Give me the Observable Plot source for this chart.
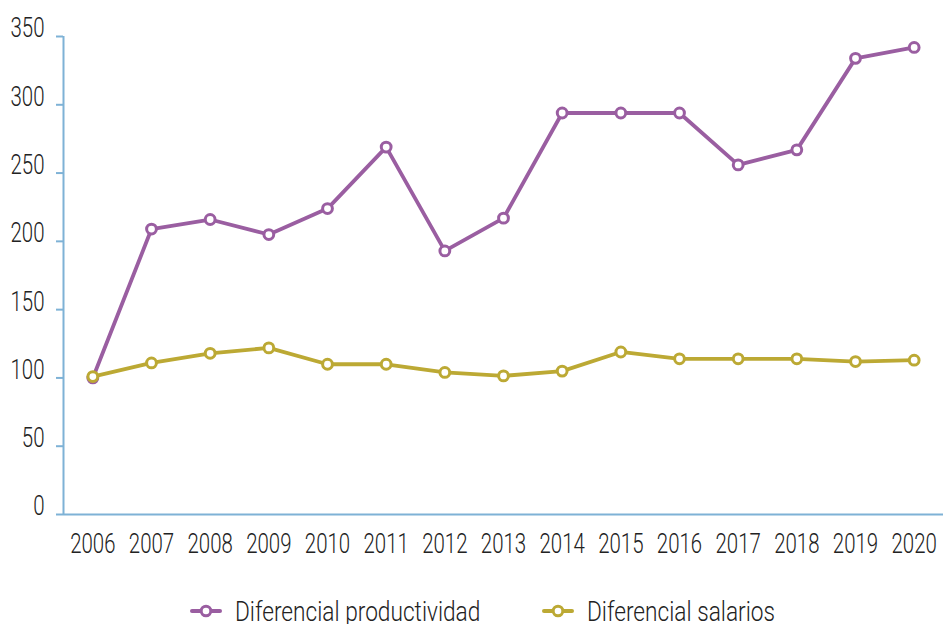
<!DOCTYPE html>
<html>
<head>
<meta charset="utf-8">
<script src="https://cdn.jsdelivr.net/npm/d3@7"></script>
<script src="https://cdn.jsdelivr.net/npm/@observablehq/plot@0.6"></script>
<style>
  html, body { margin: 0; padding: 0; background: #fff; }
  body { width: 944px; height: 624px; overflow: hidden; font-family: Roboto, "DejaVu Sans", sans-serif; }
  #chart svg, #legend svg { display: block; }
</style>
</head>
<body>
<div id="chart"></div>
<div id="legend"></div>
<script>
const years = [2006, 2007, 2008, 2009, 2010, 2011, 2012, 2013, 2014, 2015, 2016, 2017, 2018, 2019, 2020];
const productividad = [100, 209, 216, 205, 224, 269, 193, 217, 294, 294, 294, 256, 267, 334, 342];
const salarios = [101, 111, 118, 122, 110, 110, 104, 101.5, 105, 119, 114, 114, 114, 112, 113];
const seriesNames = ["Diferencial productividad", "Diferencial salarios"];
const yTicks = [0, 50, 100, 150, 200, 250, 300, 350];

const colors = ["#9a5ea1", "#bca934"];
const axisColor = "#7eb2d6";
const textColor = "#222";
const font = 'Roboto, "DejaVu Sans", sans-serif';
const squeeze = 0.73;
const legendSqueeze = 0.81;

const rows = [];
years.forEach((yr, i) => {
  rows.push({year: yr, value: productividad[i], series: seriesNames[0]});
  rows.push({year: yr, value: salarios[i], series: seriesNames[1]});
});

const chart = Plot.plot({
  width: 944,
  height: 585,
  marginLeft: 63,
  marginRight: 1,
  marginTop: 36,
  marginBottom: 71,
  style: {fontFamily: font, fontSize: "28px", fontWeight: 300, color: textColor, background: "#fff"},
  x: {type: "linear", domain: [years[0] - 0.5, years[years.length - 1] + 0.5]},
  y: {domain: [0, 350]},
  color: {domain: seriesNames, range: colors},
  marks: [
    Plot.ruleY([0], {stroke: axisColor, strokeWidth: 2}),
    Plot.ruleX([years[0] - 0.5], {y1: 0, y2: 350, stroke: axisColor, strokeWidth: 2}),
    Plot.axisY({ticks: yTicks, tickSize: 7, stroke: axisColor, strokeWidth: 2, label: null, text: null}),
    Plot.axisY({ticks: yTicks, tickSize: 7, tickPadding: 12, dy: -8, label: null, fill: textColor, marker: null, stroke: null}),
    Plot.axisX({ticks: years, tickSize: 0, tickPadding: 19, tickFormat: d => String(d), label: null, fill: textColor}),
    Plot.line(rows, {x: "year", y: "value", z: "series", stroke: "series", strokeWidth: 3.8}),
    Plot.dot(rows, {x: "year", y: "value", stroke: "series", fill: "#fff", r: 4.9, strokeWidth: 3})
  ]
});
document.getElementById("chart").appendChild(chart);

// condense text horizontally (narrow typeface look) without moving its anchor
function condense(el, k) {
  const len = el.getComputedTextLength();
  if (len > 0) {
    el.setAttribute("textLength", (len * k).toFixed(2));
    el.setAttribute("lengthAdjust", "spacingAndGlyphs");
  }
}
chart.querySelectorAll('g[aria-label$="tick label"] text').forEach(el => condense(el, squeeze));

// legend below the chart
const legendItems = [
  {name: seriesNames[0], color: colors[0], x: 192},
  {name: seriesNames[1], color: colors[1], x: 544}
];
const lg = d3.select("#legend").append("svg").attr("width", 944).attr("height", 39);
const cy = 26;
legendItems.forEach(d => {
  const g = lg.append("g");
  g.append("line").attr("x1", d.x).attr("x2", d.x + 28).attr("y1", cy).attr("y2", cy)
    .attr("stroke", d.color).attr("stroke-width", 4).attr("stroke-linecap", "round");
  g.append("circle").attr("cx", d.x + 14).attr("cy", cy).attr("r", 4.8)
    .attr("fill", "#fff").attr("stroke", d.color).attr("stroke-width", 3);
  g.append("text").attr("x", d.x + 43).attr("y", cy + 10)
    .attr("font-family", font).attr("font-size", 28).attr("font-weight", 300).attr("fill", textColor)
    .text(d.name);
});
lg.selectAll("text").each(function() { condense(this, legendSqueeze); });
</script>
</body>
</html>
